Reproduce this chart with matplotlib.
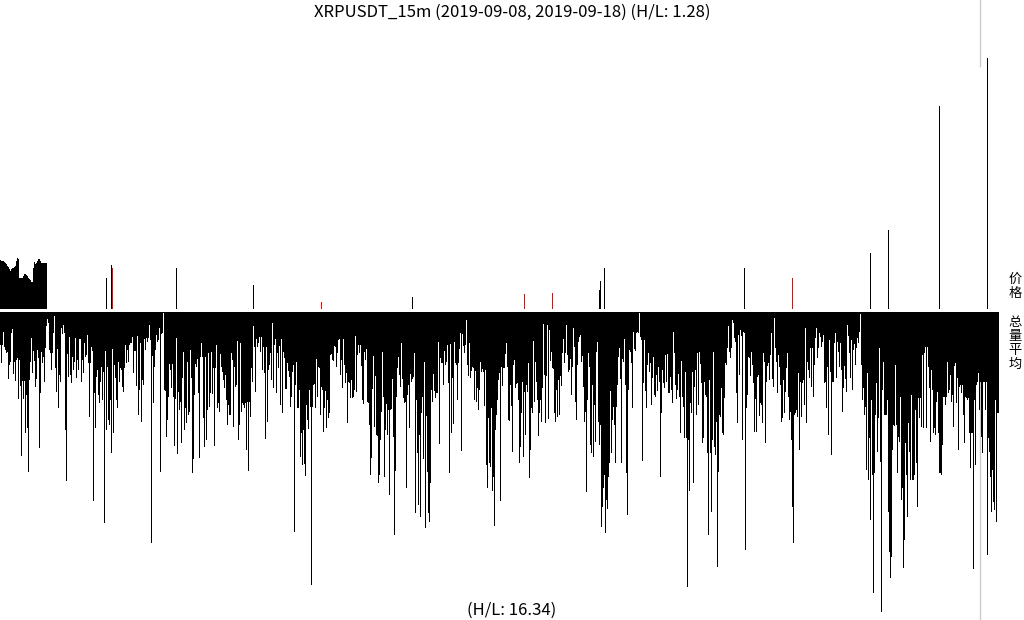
import numpy as np
import matplotlib
matplotlib.use('Agg')
import matplotlib.pyplot as plt
from matplotlib.lines import Line2D

TITLE = 'XRPUSDT_15m (2019-09-08, 2019-09-18) (H/L: 1.28)'
VOL_NOTE = '(H/L: 16.34)'
PRICE_LABEL = '价格'
VOL_LABEL = '总量平均'

# price panel: dense block at the start, then isolated bars
price_block = [49, 48, 48, 48, 47, 46, 45, 43, 42, 40, 38, 40, 41, 41, 42, 43,
               48, 51, 50, 31, 31, 31, 31, 33, 35, 35, 34, 33, 31, 30, 29, 27,
               27, 41, 47, 45, 46, 48, 50, 50, 48, 46, 46, 46, 46, 46, 46]
spike_idx = [106, 111, 112, 176, 253, 321, 412, 524, 552, 599, 600, 604,
             744, 792, 870, 888, 939, 987]
spike_val = [31, 44, 41, 41, 24, 7, 12, 15, 16, 19, 28, 41, 41, 31, 56, 79, 203, 251]
spike_red = [0, 0, 1, 0, 0, 1, 0, 1, 1, 0, 0, 0, 0, 1, 0, 0, 0, 0]

# volume (hanging down), three stretches of the period
vol_a = [135, 190, 135, 95, 140, 150, 160, 155, 237, 195,
         185, 98, 88, 222, 187, 242, 180, 175, 297, 180,
         258, 467, 242, 297, 242, 398, 285, 385, 515, 240,
         185, 115, 220, 153, 183, 260, 238, 150, 175, 443,
         280, 155, 188, 170, 245, 145, 78, 58, 68, 150,
         160, 210, 158, 100, 48, 205, 275, 148, 323, 225,
         245, 85, 103, 75, 100, 390, 542, 162, 232, 112,
         225, 250, 170, 210, 185, 115, 235, 180, 210, 118,
         118, 245, 180, 220, 130, 170, 165, 105, 190, 350,
         190, 140, 152, 602, 280, 385, 230, 210, 285, 310,
         245, 200, 300, 215, 670, 153, 390, 200, 360, 375,
         300, 458, 147, 398, 195, 235, 300, 323, 185, 245,
         205, 210, 262, 275, 205, 135, 190, 150, 185, 135,
         130, 130, 110, 218, 153, 153, 258, 108, 345, 270,
         130, 365, 240, 255, 118, 150, 115, 125, 115, 75,
         120, 728, 168, 308, 200, 150, 105, 125, 120, 85,
         515, 103, 100, 40, 270, 272, 410, 360, 290, 193,
         210, 263, 193, 290, 437, 298, 113, 462, 275, 330,
         305, 428, 235, 157, 390, 325, 368, 185, 345, 337,
         150, 235, 520, 478, 285, 192, 200, 178, 280, 475,
         170, 130, 170, 355, 440, 170, 420, 330, 160, 320,
         280, 155, 283, 205, 437, 205, 135, 325, 310, 335,
         162, 200, 215, 240, 265, 225, 300, 375, 315, 345,
         345, 160, 180, 380, 200, 260, 255, 123, 420, 375,
         130, 335, 310, 315, 325, 310, 450, 305, 512, 305,
         350, 205, 245, 78, 140, 275, 118, 140, 130, 110,
         155, 110, 210, 140, 218, 416, 140, 365, 210, 195,
         160, 240, 70, 265, 135, 118, 280, 160, 205, 138,
         315, 118, 338, 155, 175, 268, 268, 190, 212, 230,
         320, 290, 215, 195, 697, 255, 185, 325, 325, 270,
         470, 400, 495, 390, 493, 527, 315, 360, 388, 270,
         320, 856, 320, 255, 252, 325, 178, 292, 200, 205,
         345, 262, 270, 395, 325, 272, 385, 300, 355, 340,
         165, 162, 180, 182, 138, 140, 200, 160, 120, 118]
vol_b = [225, 180, 265, 118, 195, 250, 218, 370, 245, 248,
         295, 240, 295, 290, 270, 108, 275, 165, 135, 158,
         135, 198, 300, 313, 155, 180, 148, 305, 310, 375,
         525, 475, 268, 168, 380, 228, 405, 408, 548, 525,
         420, 335, 155, 292, 530, 390, 312, 405, 330, 585,
         330, 328, 237, 410, 705, 512, 290, 205, 170, 225,
         260, 130, 238, 295, 310, 305, 565, 285, 255, 383,
         222, 245, 238, 232, 160, 638, 300, 458, 615, 405,
         650, 340, 292, 478, 185, 683, 348, 515, 638, 665,
         550, 270, 305, 222, 272, 295, 280, 278, 125, 432,
         175, 188, 190, 255, 152, 195, 185, 135, 250, 518,
         132, 400, 235, 373, 125, 190, 195, 300, 190, 148,
         98, 452, 102, 138, 160, 135, 60, 195, 228, 128,
         235, 212, 200, 205, 300, 213, 305, 265, 330, 270,
         185, 215, 208, 215, 318, 210, 495, 565, 355, 490,
         500, 325, 572, 530, 678, 390, 345, 300, 240, 220,
         603, 200, 258, 205, 205, 162, 130, 200, 360, 362,
         255, 318, 455, 195, 180, 265, 252, 250, 300, 490,
         440, 340, 245, 470, 275, 405, 255, 275, 190, 535,
         450, 325, 340, 123, 305, 187, 245, 300, 408, 340,
         300, 365, 265, 72, 225, 370, 228, 75, 358, 90,
         182, 155, 203, 208, 338, 365, 270, 350, 240, 345,
         228, 258, 160, 118, 188, 160, 75, 165, 215, 210,
         178, 285, 200, 85, 140, 305, 360, 195, 125, 110,
         105, 185, 168, 260, 365, 335, 575, 300, 160, 200,
         435, 458, 255, 470, 315, 425, 155, 125, 365, 435,
         375, 680, 620, 565, 525, 700, 600, 628, 530, 490,
         272, 460, 360, 320, 375, 490, 320, 255, 170, 145,
         238, 490, 178, 185, 118, 255, 518, 645, 270, 150,
         155, 190, 325, 95, 148, 152, 100, 95, 100, 40,
         110, 120, 482, 250, 120, 272, 325, 195, 160, 215,
         190, 315, 235, 170, 285, 290, 225, 272, 202, 245,
         530, 340, 210, 250, 265, 165, 245, 162, 280, 280]
vol_c = [230, 270, 310, 95, 160, 255, 298, 270, 222, 290,
         400, 183, 290, 320, 415, 215, 415, 860, 420, 572,
         310, 340, 215, 550, 260, 210, 345, 158, 315, 155,
         192, 250, 430, 415, 245, 285, 290, 460, 705, 240,
         460, 635, 420, 155, 440, 465, 365, 800, 515, 345,
         350, 265, 400, 405, 295, 190, 195, 145, 78, 155,
         175, 145, 60, 70, 115, 125, 280, 370, 105, 225,
         90, 108, 420, 95, 100, 750, 325, 285, 170, 175,
         228, 155, 195, 250, 395, 298, 395, 230, 225, 348,
         308, 315, 368, 160, 185, 430, 245, 198, 190, 240,
         165, 100, 238, 260, 55, 145, 185, 280, 165, 200,
         255, 365, 355, 240, 338, 275, 205, 160, 290, 360,
         335, 420, 620, 728, 345, 340, 330, 350, 220, 450,
         245, 350, 250, 240, 315, 85, 368, 185, 210, 235,
         145, 260, 145, 290, 195, 115, 85, 175, 145, 100,
         110, 140, 125, 105, 248, 245, 325, 200, 405, 120,
         215, 465, 245, 245, 130, 100, 235, 125, 155, 200,
         130, 210, 335, 265, 198, 238, 275, 75, 108, 160,
         235, 120, 270, 150, 132, 195, 145, 115, 128, 95,
         42, 195, 300, 265, 345, 320, 510, 220, 540, 415,
         660, 300, 525, 878, 520, 345, 250, 455, 355, 145,
         485, 935, 270, 185, 345, 345, 345, 300, 635, 755,
         835, 770, 450, 375, 378, 195, 375, 520, 410, 425,
         290, 600, 565, 805, 720, 430, 525, 650, 370, 455,
         540, 285, 540, 540, 525, 330, 490, 620, 295, 355,
         295, 380, 165, 385, 160, 140, 385, 140, 200, 265,
         425, 210, 270, 400, 385, 405, 305, 275, 400, 520,
         520, 525, 435, 290, 290, 315, 290, 185, 280, 270,
         225, 305, 285, 380, 198, 190, 310, 235, 450, 260,
         255, 280, 255, 345, 430, 290, 295, 300, 295, 400,
         505, 400, 400, 808, 300, 495, 255, 245, 220, 330,
         245, 410, 460, 245, 245, 330, 245, 765, 415, 455,
         530, 635, 510, 605, 630, 300, 665, 340, 340]
marker_idx = 979

volume = np.array(vol_a + vol_b + vol_c)
n = len(volume)
x = np.arange(n)

price = np.zeros(n)
price[:len(price_block)] = price_block
price[spike_idx] = spike_val
colors = np.array(['black'] * n, dtype=object)
for i, r in zip(spike_idx, spike_red):
    if r:
        colors[i] = 'red'

W, H = 1024, 620
fig = plt.figure(figsize=(W / 100, H / 100), dpi=100)

axw = n / W
ax1 = fig.add_axes([0, (H - 309) / H, axw, 279 / H])
ax2 = fig.add_axes([0, 0, axw, 308 / H])

ax1.bar(x, price, width=1.0, color=list(colors), linewidth=0, antialiased=False)
ax1.set_xlim(-0.5, n - 0.5)
ax1.set_ylim(0, 279)

ax2.axvline(marker_idx, color='#cccccc', lw=1, zorder=0)
ax2.bar(x, volume, width=1.0, color='black', linewidth=0, antialiased=False, zorder=2)
ax2.set_xlim(-0.5, n - 0.5)
ax2.set_ylim(960, 36)

for ax in (ax1, ax2):
    ax.axis('off')

xf = (marker_idx + 0.5) / W
fig.add_artist(Line2D([xf, xf], [1, (H - 66) / H], color='#cccccc', lw=1))

cjk = ['Noto Sans CJK SC', 'DejaVu Sans']
fig.text(0.5, 1 - 12 / H, TITLE, ha='center', va='center', fontsize=12, family=cjk)
fig.text(0.5, 10 / H, VOL_NOTE, ha='center', va='center', fontsize=12, family=cjk)

# vertical CJK labels, one character per row
pitch = 14.3
for k, ch in enumerate(PRICE_LABEL):
    yc = 279 + k * pitch
    fig.text(1015 / W, 1 - yc / H, ch, ha='center', va='center', fontsize=9.5, family=cjk)
for k, ch in enumerate(VOL_LABEL):
    yc = 322 + k * pitch
    fig.text(1015 / W, 1 - yc / H, ch, ha='center', va='center', fontsize=9.5, family=cjk)

fig.savefig('out.png', dpi=100)
